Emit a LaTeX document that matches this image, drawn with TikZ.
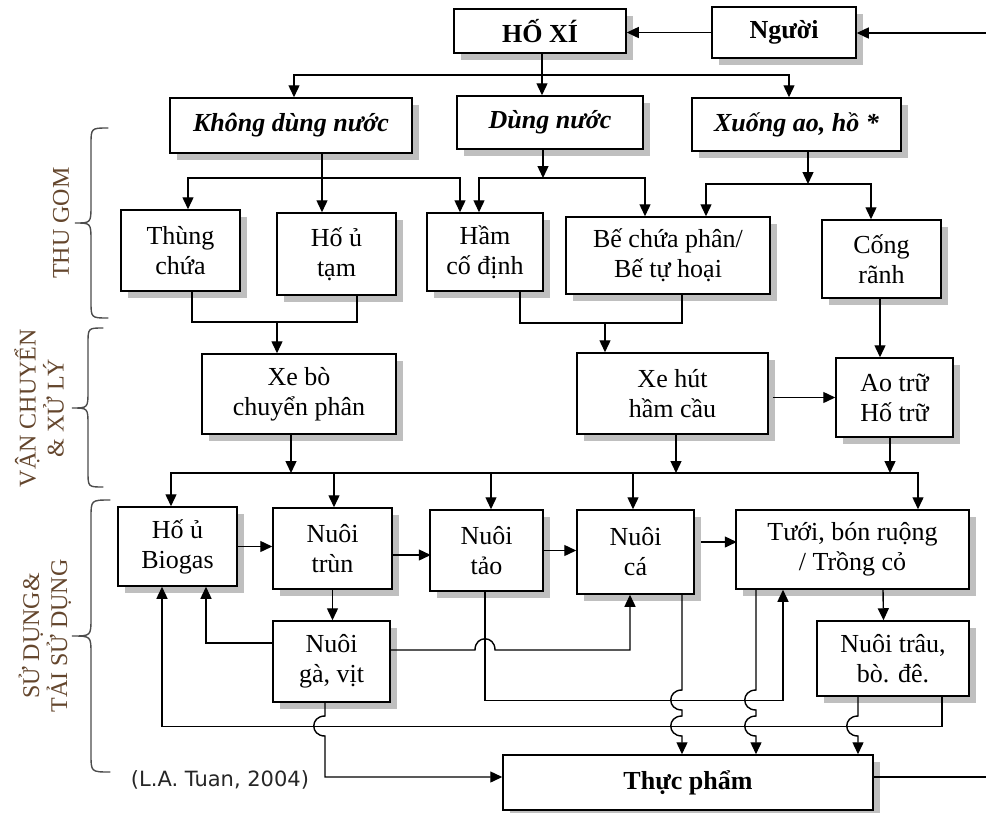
\documentclass[tikz,border=0pt]{standalone}
\usepackage{fontspec}
\setmainfont{Liberation Serif}
\newfontfamily\citefont{DejaVu Sans}
\usetikzlibrary{arrows.meta,shadows,calc}
\definecolor{sidecol}{RGB}{100,70,45}
\begin{document}
\begin{tikzpicture}[x=1pt,y=-1pt,
 box/.style={draw,line width=1.5pt,fill=white,align=center,inner sep=0pt,
   font=\fontsize{26}{30}\selectfont,
   drop shadow={shadow xshift=7pt,shadow yshift=-7pt,fill=black!25,opacity=1}},
 bx/.style 2 args={box,minimum width=#1pt,minimum height=#2pt},
 ln/.style={line width=1.4pt},
 arr/.style={ln,-{Triangle[length=12pt,width=11pt]}},
 brc/.style={line width=1.4pt,draw=black!70,line cap=round},
 side/.style={rotate=90,align=center,text=sidecol,font=\fontsize{24}{28}\selectfont}
]
\useasboundingbox (0,0) rectangle (986,812);

% ---------- nodes ----------
\node[bx={172}{44}] (hoxi) at (540,31) {\textbf{HỐ XÍ}};
\node[bx={144}{51}] (nguoi) at (784,32.5) {\textbf{Người}};
\node[bx={242}{55}] (khong) at (291,125.5) {\textbf{\textit{Không dùng nước}}};
\node[bx={186}{53}] (dung) at (550,122.5) {\textbf{\textit{Dùng nước}}};
\node[bx={209}{53}] (xuong) at (796.5,124.5) {\textbf{\textit{Xuống ao, hồ *}}};

\node[bx={119}{81}] (thung) at (180.5,250.5) {Thùng\\chứa};
\node[bx={119}{82}] (hou) at (336.5,254) {Hố ủ\\tạm};
\node[bx={116}{78}] (ham) at (485,252) {Hầm\\cố định};
\node[bx={204}{77}] (be) at (668,255.5) {Bế chứa phân/\\Bế tự hoại};
\node[bx={119}{78}] (cong) at (881.5,259) {Cống\\rãnh};

\node[bx={194}{80}] (xebo) at (299,394) {Xe bò\\chuyển phân};
\node[bx={191}{81}] (xehut) at (672.5,393.5) {Xe hút\\hầm cầu};
\node[bx={117}{79}] (aotru) at (894.5,397.5) {Ao trữ\\Hố trữ};

\node[bx={119}{79}] (biogas) at (177.5,546.5) {Hố ủ\\Biogas};
\node[bx={119}{81}] (trun) at (332.5,548.5) {Nuôi\\trùn};
\node[bx={113}{81}] (tao) at (486.5,550.5) {Nuôi\\tảo};
\node[bx={117}{84}] (ca) at (635.5,552) {Nuôi\\cá};
\node[bx={233}{79}] (tuoi) at (852.5,549.5) {Tưới, bón ruộng\\/ Trồng cỏ};

\node[bx={117}{81}] (ga) at (331.5,661.5) {Nuôi\\gà, vịt};
\node[bx={152}{75}] (trau) at (893,658.5) {Nuôi trâu,\\bò. đê.};

\node[bx={370}{55}] (thucpham) at (688,782.5) {\textbf{Thực phẩm}};

\node[font=\citefont\fontsize{21}{23}\selectfont,text=black!85,inner sep=0pt] (cite) at (220,780) {(L.A. Tuan, 2004)};

% ---------- side labels and braces ----------
\node[side] (lbl1) at (61,223) {THU GOM};
\node[side] (lbl2) at (39,408) {VẬN CHUYỂN\\\& XỬ LÝ};
\node[side] (lbl3) at (45,636) {SỬ DỤNG\&\\TẢI SỬ DỤNG};

\draw[brc] (108,128) .. controls (91,128) .. (91,145) -- (91,205) .. controls (91,223) .. (75,223)
  .. controls (91,223) .. (91,241) -- (91,301) .. controls (91,318) .. (108,318);
\draw[brc] (103,328) .. controls (88,328) .. (88,344) -- (88,391) .. controls (88,408) .. (72,408)
  .. controls (88,408) .. (88,425) -- (88,471) .. controls (88,487) .. (103,487);
\draw[brc] (110,500) .. controls (91,500) .. (91,518) -- (91,618) .. controls (91,636) .. (72,636)
  .. controls (91,636) .. (91,654) -- (91,754) .. controls (91,772) .. (110,772);

% ---------- free ends and junctions ----------
\coordinate (R1) at (986,33);
\coordinate (R2) at (986,777);
\coordinate (j1) at (542,75);
\coordinate (j2) at (322,178);
\coordinate (j3) at (543,178);
\coordinate (j4) at (808,184);
\coordinate (j5) at (277,322);
\coordinate (j6) at (605,323);
\coordinate (j7) at (291,473);
\coordinate (j8) at (676,473);
\coordinate (j9) at (890,473);

% ---------- top ----------
\draw[arr] (R1) -- (R1 -| nguoi.east);
\draw[arr] (nguoi.west) -- (nguoi.west -| hoxi.east);
\draw[arr] (j1 |- hoxi.south) -- (j1 |- dung.north);
\draw[arr] (j1) -| ([xshift=3pt]khong.north);
\draw[arr] (j1) -| ([xshift=-7.5pt]xuong.north);

% ---------- collection ----------
\draw[arr] (j2 |- khong.south) -- (j2 |- hou.north);
\draw[arr] (j2) -| ([xshift=7.5pt]thung.north);
\draw[arr] (j2) -| ([xshift=-25pt]ham.north);
\draw[arr] (j3 |- dung.south) -- (j3);
\draw[arr] (j3) -| ([xshift=-6pt]ham.north);
\draw[arr] (j3) -| ([xshift=-23pt]be.north);
\draw[arr] (j4 |- xuong.south) -- (j4);
\draw[arr] (j4) -| ([xshift=38pt]be.north);
\draw[arr] (j4) -| ([xshift=-10.5pt]cong.north);

% ---------- transport ----------
\draw[ln] ([xshift=11.5pt]thung.south) |- (j5) -| ([xshift=20.5pt]hou.south);
\draw[arr] (j5) -- (j5 |- xebo.north);
\draw[ln] ([xshift=35pt]ham.south) |- (j6) -| ([xshift=14pt]be.south);
\draw[arr] (j6) -- (j6 |- xehut.north);
\draw[arr] ([xshift=-1.5pt]cong.south) -- ([xshift=-1.5pt]cong.south |- aotru.north);
\draw[arr] ($(aotru.west -| xehut.east)+(4,0)$) -- (aotru.west);

% ---------- reuse feed ----------
\draw[arr] (j7 |- xebo.south) -- (j7);
\draw[arr] (j8 |- xehut.south) -- (j8);
\draw[arr] (j9 |- aotru.south) -- (j9);
\draw[ln] ([xshift=-6.5pt]biogas.north |- j7) -- ([xshift=65.5pt]tuoi.north |- j9);
\draw[arr] (j7) -| ([xshift=-6.5pt]biogas.north);
\draw[arr] (j7) -| ([xshift=1.5pt]trun.north);
\draw[arr] (j8) -| ([xshift=4.5pt]tao.north);
\draw[arr] (j8) -| ([xshift=-2.5pt]ca.north);
\draw[arr] (j9) -| ([xshift=65.5pt]tuoi.north);

% ---------- reuse chain ----------
\draw[arr] (biogas.east) -- (biogas.east -| trun.west);
\draw[arr] ($(trun.east)+(0,6.5)$) -- ++(38,0);
\draw[arr] (tao.east) -- (tao.east -| ca.west);
\draw[arr] ($(ca.east)+(6,-10)$) -- ++(36,0);
\draw[arr] (trun.south) -- (trun.south |- ga.north);
\draw[arr] ($(tuoi.south)+(30.5,0)$) -- ($(trau.north)+(-9.5,0)$);
\draw[arr] ($(ga.west)+(0,-18.5)$) -| ($(biogas.south)+(28.5,0)$);

% ga -> ca with hop over tao line
\draw[arr] ($(ga.east)+(0,-11.5)$) -- (475,650) .. controls (475,635) and (495,635) .. (495,650)
  -| ($(ca.south)+(-5.5,0)$);
% tao -> tuoi
\draw[arr] ($(tao.south)+(-1.5,0)$) |- ($(tuoi.south)+(-69.5,111)$) -- ($(tuoi.south)+(-69.5,0)$);
% trau -> biogas loop
\draw[arr] ($(trau.south)+(49,0)$) |- ($(biogas.south)+(-15.5,140)$) -- ($(biogas.south)+(-15.5,0)$);

% ---------- to food ----------
\draw[arr] ($(ca.south)+(46.5,0)$) -- (682,690) .. controls (667,690) and (667,710) .. (682,710)
  -- (682,716) .. controls (667,716) and (667,736) .. (682,736) -- ([xshift=-6pt]thucpham.north);
\draw[arr] ($(tuoi.south)+(-96.5,0)$) -- (756,690) .. controls (741,690) and (741,710) .. (756,710)
  -- (756,716) .. controls (741,716) and (741,736) .. (756,736) -- ([xshift=68pt]thucpham.north);
\draw[arr] ($(trau.south)+(-35,0)$) -- (858,716) .. controls (843,716) and (843,736) .. (858,736)
  -- ([xshift=170pt]thucpham.north);
\draw[arr] ($(ga.south)+(-6.5,0)$) -- (325,716) .. controls (310,716) and (310,736) .. (325,736)
  |- ($(thucpham.west)+(0,-5.5)$);
\draw[ln] ($(thucpham.east)+(0,-5.5)$) -- (R2);
\end{tikzpicture}
\end{document}
